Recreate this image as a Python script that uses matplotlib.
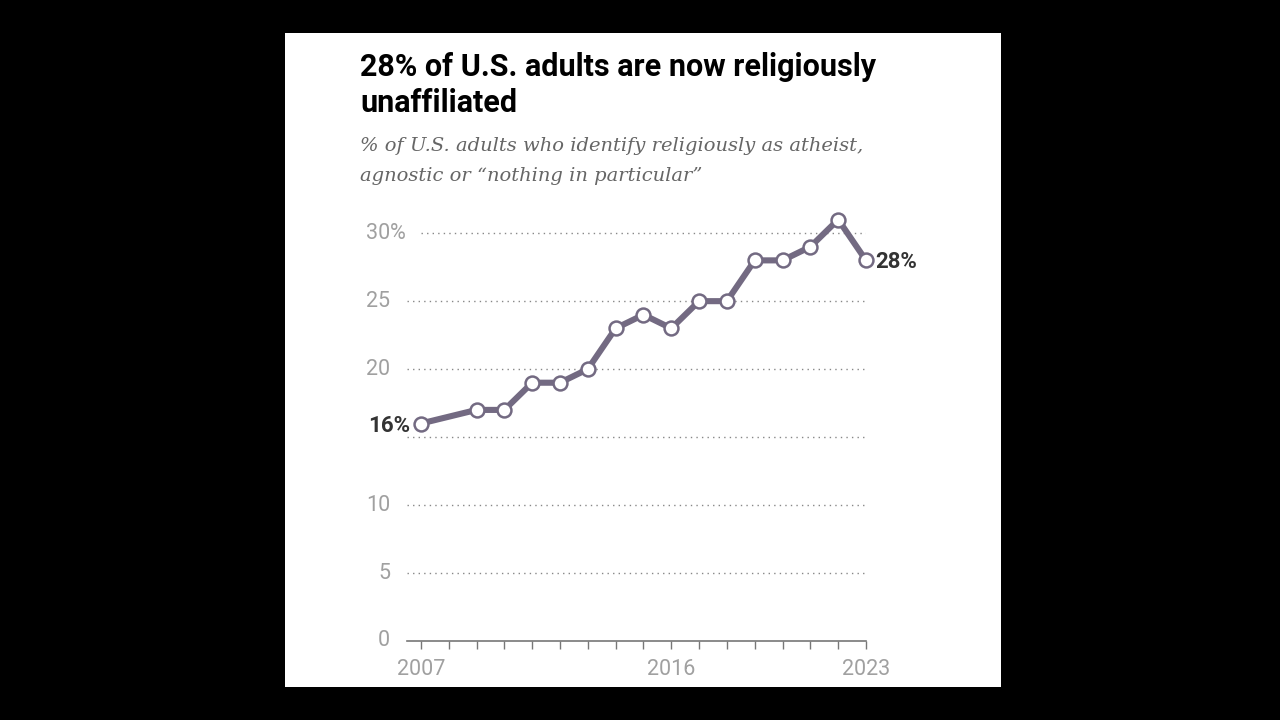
import matplotlib.pyplot as plt
from matplotlib.patches import Rectangle

# share of U.S. adults religiously unaffiliated (no 2008 survey)
years = [2007, 2009, 2010, 2011, 2012, 2013, 2014, 2015, 2016, 2017, 2018, 2019, 2020, 2021, 2022, 2023]
values = [16, 17, 17, 19, 19, 20, 23, 24, 23, 25, 25, 28, 28, 29, 31, 28]
ytick_vals = [0, 5, 10, 20, 25, 30]
xtick_labels = {2007: '2007', 2016: '2016', 2023: '2023'}

line_col = '#736a82'
grey = '#a0a0a0'

W, H = 1280, 720
fig = plt.figure(figsize=(W / 100, H / 100), dpi=100, facecolor='black')

# white card
fig.patches.append(Rectangle((285 / W, 1 - 687 / H), (1001 - 285) / W, (687 - 33) / H,
                             transform=fig.transFigure, facecolor='white', edgecolor='none', zorder=-5))

left, right, bottom, top = 407, 866, 641, 206
ax = fig.add_axes([left / W, 1 - bottom / H, (right - left) / W, (bottom - top) / H])
ax.set_zorder(2)
ax.set_facecolor('none')
ax.set_xlim(2006.5, 2023)
ax.set_ylim(0, 32)

# dotted gridlines
for g in [5, 10, 15, 20, 25]:
    ax.axhline(g, color='#888888', lw=1, ls=(0, (1, 3)), zorder=1)
ax.hlines(30, 2007, 2023, color='#888888', lw=1, ls=(0, (1, 3)), zorder=1)

ax.plot(years, values, color=line_col, lw=4.4, marker='o', ms=10, mfc='white',
        mec=line_col, mew=1.8, zorder=3, clip_on=False)

for s in ['top', 'right', 'left']:
    ax.spines[s].set_visible(False)
ax.spines['bottom'].set_color('#777777')
ax.spines['bottom'].set_linewidth(1.2)

ax.set_yticks([])
ax.set_xticks(range(2007, 2024))
ax.set_xticklabels([xtick_labels.get(y, '') for y in range(2007, 2024)])
ax.tick_params(axis='x', length=6, width=1, color='#777777', labelcolor=grey,
               labelsize=15.5, pad=7)
for lab in ax.get_xticklabels():
    lab.set_fontfamily('Roboto')

# y labels, numbers right aligned, % hanging out
for v in ytick_vals:
    ax.text(2005.9, v, str(v), ha='right', va='center', color=grey, fontsize=15.5,
            family='Roboto')
ax.text(2005.9, 30, '%', ha='left', va='center', color=grey, fontsize=15.5, family='Roboto')

# end labels
ax.text(2006.6, values[0] - 0.15, f'{values[0]}%', ha='right', va='center', color='#333333',
        fontsize=16, fontweight='bold', family='Roboto')
ax.text(2023.35, values[-1] - 0.15, f'{values[-1]}%', ha='left', va='center', color='#333333',
        fontsize=16, fontweight='bold', family='Roboto')

fig.text(360 / W, 1 - 52 / H, '28% of U.S. adults are now religiously\nunaffiliated',
         ha='left', va='top', fontsize=22, fontweight='bold', family='Roboto',
         color='black', linespacing=1.27)
fig.text(360 / W, 1 - 137 / H, '% of U.S. adults who identify religiously as atheist,\nagnostic or \u201cnothing in particular\u201d',
         ha='left', va='top', fontsize=14, style='italic', family='DejaVu Serif',
         color='#666666', linespacing=1.85)

fig.savefig('out.png', dpi=100, facecolor='black')
